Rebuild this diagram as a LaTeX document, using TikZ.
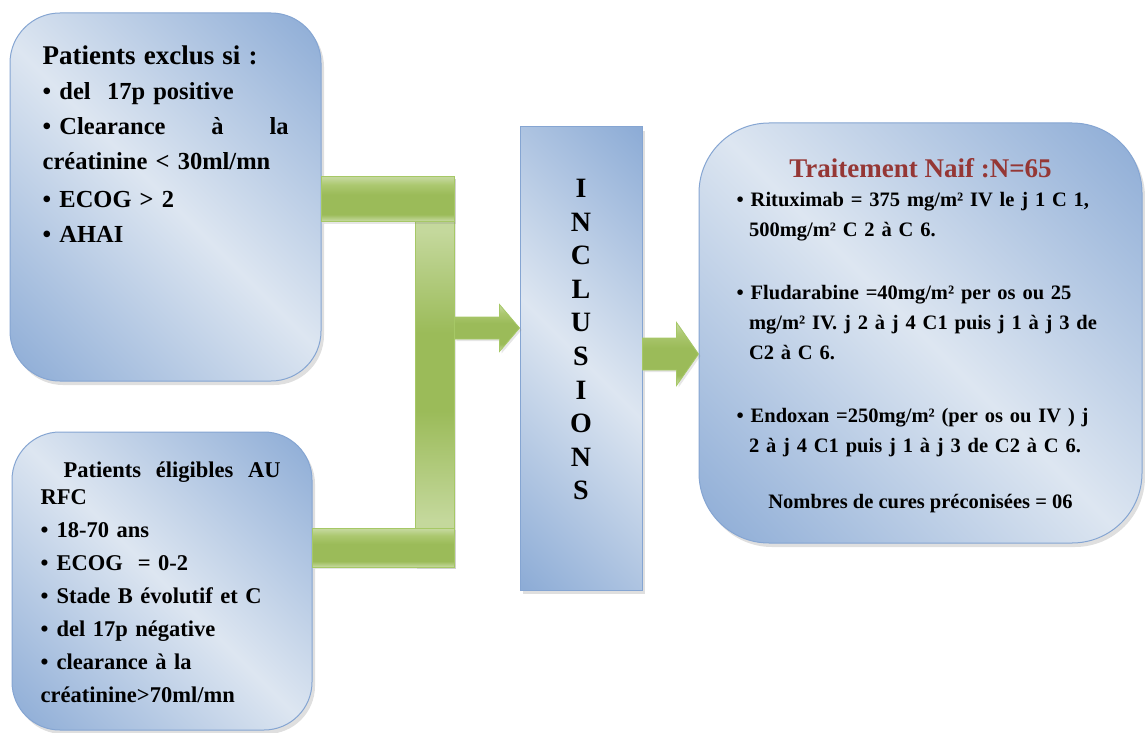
\documentclass[tikz,border=0pt]{standalone}
\usepackage{fontspec}
\setmainfont{Liberation Serif}
\usetikzlibrary{calc,shadows}
\definecolor{boxdark}{RGB}{141,172,214}
\definecolor{boxlight}{RGB}{221,230,241}
\definecolor{boxedge}{RGB}{133,165,210}
\definecolor{greendark}{RGB}{155,187,89}
\definecolor{greenmid}{RGB}{172,200,112}
\definecolor{greenlight}{RGB}{196,216,156}
\definecolor{greenedge}{RGB}{166,200,102}
\definecolor{titlered}{RGB}{149,55,53}
\pgfdeclarehorizontalshading{boxshade}{100bp}{color(0bp)=(boxdark); color(15bp)=(boxdark); color(50bp)=(boxlight); color(85bp)=(boxdark); color(100bp)=(boxdark)}
\pgfdeclareverticalshading{hbarshade}{100bp}{color(0bp)=(greenlight); color(26bp)=(greenlight); color(33bp)=(greendark); color(55bp)=(greendark); color(66bp)=(greenmid); color(74bp)=(greenlight); color(100bp)=(greenlight)}
\pgfdeclareverticalshading{vbarshade}{100bp}{color(0bp)=(greenlight); color(31bp)=(greenlight); color(45bp)=(greendark); color(55bp)=(greendark); color(68bp)=(greenlight); color(100bp)=(greenlight)}
\newcommand{\fatarrow}[5]{
  \path[fat arrow] ($ (#1) + (0,-#3) $) -- ($ (#2) + (-#5,-#3) $) -- ($ (#2) + (-#5,-#4) $) -- (#2)
    -- ($ (#2) + (-#5,#4) $) -- ($ (#2) + (-#5,#3) $) -- ($ (#1) + (0,#3) $) -- cycle;
}

\begin{document}
\begin{tikzpicture}[
    x=1pt,y=-1pt,
    criteria box/.style={draw=boxedge,line width=1pt,shade,shading=boxshade,shading angle=45,inner sep=0pt,
      drop shadow={opacity=0.25,shadow xshift=3pt,shadow yshift=-4pt}},
    criteria text/.style={anchor=base west,inner sep=0pt,align=left,font=\bfseries\fontsize{24.5}{35}\selectfont},
    green bar/.style={draw=greenedge,line width=0.8pt,shade,shading=hbarshade,
      drop shadow={opacity=0.2,shadow xshift=2pt,shadow yshift=-2pt}},
    fat arrow/.style={green bar},
  ]
  \useasboundingbox (0,0) rectangle (1145,733);

  \node[criteria box,rounded corners=50,minimum width=311,minimum height=368] (crit-exclus) at (165.5,197) {};
  \node[criteria box,rounded corners=48,minimum width=300,minimum height=298] (crit-eligibles) at (162,581) {};
  \node[criteria box,minimum width=122,minimum height=463] (inclusions) at (581,358.5) {};
  \node[criteria box,rounded corners=70,minimum width=443,minimum height=420] (treat-naif) at (920.5,333) {};

  \node[green bar,shading=vbarshade,minimum width=39,minimum height=390,inner sep=0pt] (joint) at (434.5,372) {};
  \path[green bar] (crit-exclus.east |- joint.north) rectangle ($ (joint.north east) + (0,45) $);
  \path[green bar] (crit-eligibles.east |- joint.south) rectangle ($ (joint.south east) + (0,-39) $);

  \coordinate (arrow-in) at ($ (joint.east) + (0,-44) $);
  \fatarrow{arrow-in}{arrow-in -| inclusions.west}{11}{23.5}{20}
  \coordinate (arrow-out) at ($ (inclusions.east) + (0,-4.5) $);
  \fatarrow{arrow-out}{arrow-out -| treat-naif.west}{16}{31.5}{22}

  \node[criteria text,text width=246] (crit-exclus--text) at ($ (crit-exclus.north west) + (33,52) $) {
    {\fontsize{27}{35}\selectfont Patients exclus si :}\\
    \textbullet\ del\ \ 17p positive\\
    \textbullet\ Clearance\hfill à\hfill la\\
    créatinine < 30ml/mn\\[3pt]
    \textbullet\ ECOG > 2\\
    \textbullet\ AHAI
  };

  \node[criteria text,text width=240,font=\bfseries\fontsize{22.5}{33}\selectfont] (crit-eligibles--text) at ($ (crit-eligibles.north west) + (29,46) $) {
    \hspace*{23pt}Patients\hfill éligibles\hfill AU\\[-6pt]
    RFC\\
    \textbullet\hspace{8pt}18-70 ans\\
    \textbullet\hspace{8pt}ECOG\ \ = 0-2\\
    \textbullet\hspace{8pt}Stade B évolutif et C\\
    \textbullet\hspace{8pt}del 17p négative\\
    \textbullet\hspace{8pt}clearance à la\\
    créatinine>70ml/mn
  };

  \node[anchor=base,inner sep=0pt,text width=40,align=center,font=\bfseries\fontsize{28}{33.6}\selectfont] (inclusions--text) at ($ (inclusions.north) + (0,71) $) {I\\N\\C\\L\\U\\S\\I\\O\\N\\S};

  \node[anchor=base,inner sep=0pt,text=titlered,font=\bfseries\fontsize{27}{30}\selectfont] (treat-naif--title) at ($ (treat-naif.north) + (0,55) $) {Traitement Naif :N=65};
  \node[criteria text,text width=395,font=\bfseries\fontsize{20.5}{30}\selectfont] (treat-naif--text) at ($ (treat-naif.north west) + (38,84) $) {
    \textbullet\ Rituximab = 375 mg/m² IV le j 1 C 1,\\
    \hspace*{12.3pt}500mg/m² C 2 à C 6.\\[33pt]
    \textbullet\ Fludarabine =40mg/m² per os ou 25\\
    \hspace*{12.3pt}mg/m² IV. j 2 à j 4 C1 puis j 1 à j 3 de\\
    \hspace*{12.3pt}C2 à C 6.\\[33pt]
    \textbullet\ Endoxan =250mg/m² (per os ou IV ) j\\
    \hspace*{12.3pt}2 à j 4 C1 puis j 1 à j 3 de C2 à C 6.
  };
  \node[anchor=base,inner sep=0pt,font=\bfseries\fontsize{20.5}{30}\selectfont] (treat-naif--cures) at ($ (treat-naif.south) + (0,-35) $) {Nombres de cures préconisées = 06};
\end{tikzpicture}
\end{document}
